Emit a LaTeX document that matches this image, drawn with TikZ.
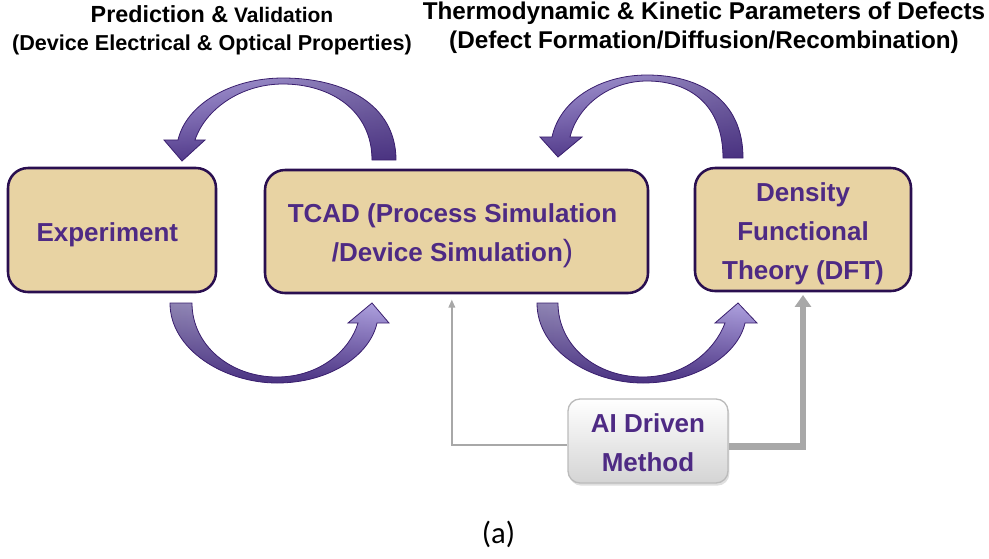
\documentclass[tikz,border=0pt]{standalone}
\usepackage{fontspec}
\setmainfont{Liberation Sans}
\newfontfamily\capfont{Carlito}
\usetikzlibrary{arrows.meta,shadows,fadings}
\definecolor{boxfill}{HTML}{E8D3A3}
\definecolor{boxline}{HTML}{2A0F50}
\definecolor{txtpurple}{HTML}{4E2A84}
\definecolor{topL}{HTML}{A99BDA}
\definecolor{topR}{HTML}{7A6BA6}
\definecolor{botL}{HTML}{8E84B2}
\definecolor{botR}{HTML}{B0A3E2}
\definecolor{ardark}{HTML}{3C2276}
\definecolor{arline}{HTML}{3A1F6E}
\definecolor{conngray}{HTML}{A8A8A8}
\definecolor{aiborder}{HTML}{BBBBBB}
\definecolor{aibottom}{HTML}{D4D4D4}
\tikzfading[name=fadeup, top color=transparent!100, middle color=transparent!100, bottom color=transparent!0]
\begin{document}
\begin{tikzpicture}[x=0.75pt,y=-0.75pt,
  mainbox/.style={draw=boxline, line width=1.9pt, fill=boxfill, rounded corners=15pt, inner sep=0pt},
  boxtext/.style={align=center, text=txtpurple, font=\fontsize{19.5}{29.25}\selectfont\bfseries, inner sep=0pt},
  aibox/.style={draw=aiborder, line width=1pt, top color=white, bottom color=aibottom,
    rounded corners=9pt, inner sep=0pt,
    drop shadow={opacity=0.25, shadow xshift=1pt, shadow yshift=-2pt}},
  curvedtop/.style={left color=topL, right color=topR,
    postaction={fill=ardark, path fading=fadeup, fill opacity=0.78},
    postaction={draw=arline, line width=0.6pt}},
  curvedbot/.style={left color=botL, right color=botR,
    postaction={fill=ardark, path fading=fadeup, fill opacity=0.85},
    postaction={draw=arline, line width=0.6pt}},
  thinconn/.style={draw=conngray, line width=1.1pt, -{Triangle[length=6pt,width=5pt]}},
  thickconn/.style={draw=conngray, line width=5pt, -{Triangle[length=9pt,width=12pt]}},
  toplabel/.style={align=center, inner sep=0pt, text=black}
]
\useasboundingbox (0,0) rectangle (989,558);

% top labels
\node[toplabel, font=\fontsize{16.2}{21}\selectfont\bfseries] (lblL) at (212,30)
  {{\fontsize{17.5}{21}\selectfont Prediction \&} {\fontsize{15.75}{21}\selectfont Validation}\\(Device Electrical \& Optical Properties)};
\node[toplabel, font=\fontsize{18.2}{21.75}\selectfont\bfseries] (lblR) at (704,28)
  {Thermodynamic \& Kinetic Parameters of Defects\\(Defect Formation/Diffusion/Recombination)};

% curved arrows
\path[curvedtop] (396,160) .. controls (396,105) and (345,78) .. (283,78)
  .. controls (230,78) and (186,105) .. (178,140) -- (164,140) -- (182,161) -- (205,140) -- (195,140)
  .. controls (205,110) and (240,84) .. (283,84)
  .. controls (330,84) and (372,110) .. (372,160) -- cycle;
\path[curvedtop] (743,158) .. controls (743,100) and (700,75) .. (647,75)
  .. controls (600,75) and (560,100) .. (552,137) -- (540,137) -- (558,157) -- (582,137) -- (570,137)
  .. controls (578,105) and (610,81) .. (647,81)
  .. controls (690,81) and (723,105) .. (723,158) -- cycle;
\path[curvedbot] (170,303) .. controls (170,350) and (225,383) .. (277,383)
  .. controls (330,383) and (370,355) .. (377,323) -- (389,323) -- (372,303) -- (348,323) -- (358,323)
  .. controls (350,350) and (320,377) .. (277,377)
  .. controls (230,377) and (192,345) .. (192,303) -- cycle;
\path[curvedbot] (537,303) .. controls (537,350) and (590,383) .. (643,383)
  .. controls (695,383) and (738,355) .. (745,323) -- (757,323) -- (738,303) -- (715,323) -- (725,323)
  .. controls (715,350) and (685,377) .. (643,377)
  .. controls (595,377) and (558,345) .. (558,303) -- cycle;

% boxes
\node[mainbox, minimum width=156pt, minimum height=93pt] (exp) at (112,230) {};
\node[mainbox, minimum width=287.25pt, minimum height=92.25pt] (tcad) at (456.5,231.5) {};
\node[mainbox, minimum width=162pt, minimum height=92.25pt] (dft) at (803,229.5) {};
\node[aibox, minimum width=120pt, minimum height=63pt] (ai) at (648,441) {};

\node[boxtext] (expt) at ([xshift=-3.5pt,yshift=-3.5pt]exp.center) {Experiment};
\node[boxtext] (tcadt) at ([xshift=-3pt,yshift=-3.5pt]tcad.center)
  {TCAD (Process Simulation\\/Device Simulation{\mdseries\fontsize{23}{23}\selectfont)}};
\node[boxtext] (dftt) at ([yshift=-3.5pt]dft.center) {Density\\Functional\\Theory (DFT)};
\node[boxtext] (ait) at ([yshift=-1.5pt]ai.center) {AI Driven\\Method};

% connectors
\draw[thinconn] ([yshift=-3pt]ai.west) -| ([xshift=-3.5pt,yshift=-4pt]tcad.south);
\draw[thickconn] ([yshift=-4pt]ai.east) -| ([yshift=-2pt]dft.south);

\node[font=\capfont\fontsize{23}{26}\selectfont, inner sep=0pt] (cap) at (498.5,534) {(a)};
\end{tikzpicture}
\end{document}
